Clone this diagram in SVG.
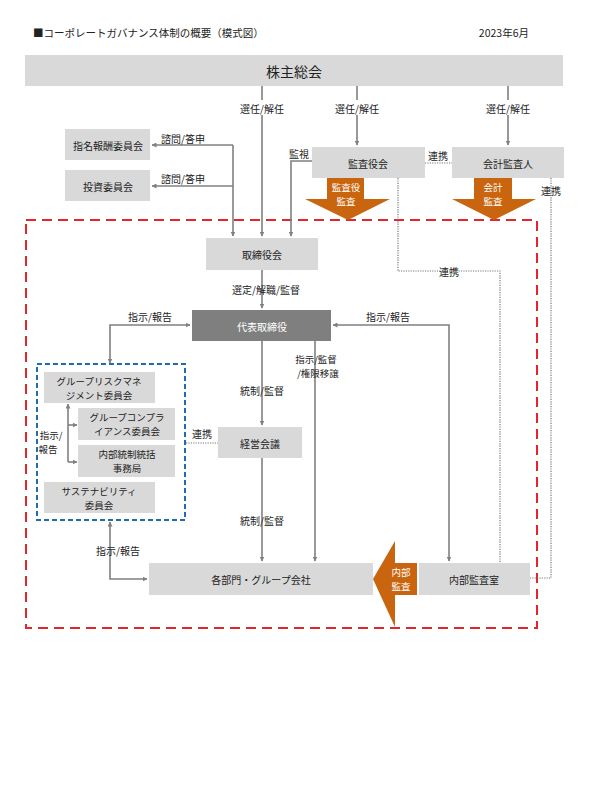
<svg xmlns="http://www.w3.org/2000/svg" width="589" height="788" viewBox="0 0 589 788">
<defs>
<marker id="ah" viewBox="0 0 10 10" refX="9" refY="5" markerWidth="5" markerHeight="5" orient="auto-start-reverse" markerUnits="userSpaceOnUse">
<path d="M0,0 L10,5 L0,10 z" fill="#808080"/>
</marker>
<style>
text{font-family:"Noto Sans CJK JP","Noto Sans",sans-serif;fill:#222;}
.box{fill:#d9d9d9;}
.dark{fill:#7f7f7f;}
.t{font-size:10px;text-anchor:middle;dominant-baseline:central;}
.t2{font-size:9.5px;text-anchor:middle;dominant-baseline:central;}
.lbl{font-size:10px;text-anchor:middle;dominant-baseline:central;}
.l2{font-size:9.5px;text-anchor:middle;dominant-baseline:central;}
.w{fill:#fff;}
.ln{fill:none;stroke:#808080;stroke-width:1.6;}
.arr{marker-end:url(#ah);}
.dot{fill:none;stroke:#777;stroke-width:1.2;stroke-dasharray:1.2 1.2;}
.org{fill:#c8650e;}
</style>
</defs>
<rect width="589" height="788" fill="#fff"/>
<text x="33" y="37" style="font-size:10.5px">■コーポレートガバナンス体制の概要（模式図）</text>
<text x="529" y="37" style="font-size:10.5px;text-anchor:end">2023年6月</text>

<!-- frames -->
<rect x="26" y="220" width="511" height="408" fill="none" stroke="#e3262b" stroke-width="2" stroke-dasharray="10 6"/>
<rect x="37" y="364" width="148" height="156" fill="none" stroke="#1f6cb4" stroke-width="2" stroke-dasharray="5 3"/>

<g id="connectors">
<path class="ln" d="M262,86 V100 M262,115 V236" marker-end="url(#ah)"/>
<path class="ln" d="M357,86 V100 M357,115 V145" marker-end="url(#ah)"/>
<path class="ln" d="M508,86 V100 M508,115 V145" marker-end="url(#ah)"/>
<path class="ln arr" d="M233,145 V236"/>
<path class="ln arr" d="M233,145 H152"/>
<path class="ln arr" d="M233,186 H152"/>
<path class="ln arr" d="M313,161 H291 V236"/>
<path class="ln arr" d="M262,270 V308"/>
<path class="ln" d="M110,363 V325 H190" marker-start="url(#ah)" marker-end="url(#ah)"/>
<path class="ln" d="M449,561 V325 H333" marker-start="url(#ah)" marker-end="url(#ah)"/>
<path class="ln arr" d="M262,341 V425"/>
<path class="ln arr" d="M315,341 V561"/>
<path class="ln arr" d="M262,458 V561"/>
<path class="ln" d="M110,522 V579 H147" marker-start="url(#ah)" marker-end="url(#ah)"/>
<path class="ln arr" d="M68,425 V404"/>
<path class="ln" d="M68,425 V462"/>
<path class="ln arr" d="M68,425 H77"/>
<path class="ln arr" d="M68,462 H77"/>
<path class="dot" d="M425,163 H452"/>
<path class="dot" d="M186,443 H218"/>
<path class="dot" d="M398,178 V271 H500 V563"/>
<path class="dot" d="M551,178 V578 H530"/>
<path class="org" d="M327,177 H364 V199 H390 L348,220 L305,199 H327 Z"/>
<path class="org" d="M474,177 H512 V199 H536 L494,220 L452,199 H474 Z"/>
<path class="org" d="M417,563 V595 H395 V627 L373,579 L395,541 V563 Z"/>
<text class="l2 w" x="346" y="187">監査役</text>
<text class="l2 w" x="346" y="201">監査</text>
<text class="l2 w" x="493" y="187">会計</text>
<text class="l2 w" x="493" y="201">監査</text>
<text class="l2 w" x="401" y="572">内部</text>
<text class="l2 w" x="401" y="586">監査</text>
<text class="lbl" x="262" y="108">選任/解任</text>
<text class="lbl" x="357" y="108">選任/解任</text>
<text class="lbl" x="508" y="108">選任/解任</text>
<text class="lbl" x="183" y="138">諮問/答申</text>
<text class="lbl" x="183" y="178">諮問/答申</text>
<text class="lbl" x="299" y="153">監視</text>
<text class="lbl" x="438" y="155">連携</text>
<text class="lbl" x="551" y="190">連携</text>
<text class="lbl" x="449" y="271">連携</text>
<text class="lbl" x="266" y="289">選定/解職/監督</text>
<text class="lbl" x="150" y="316">指示/報告</text>
<text class="lbl" x="388" y="316">指示/報告</text>
<text class="l2" x="316" y="359">指示/監督</text>
<text class="l2" x="318" y="373">/権限移譲</text>
<text class="lbl" x="262" y="390">統制/監督</text>
<text class="lbl" x="202" y="433">連携</text>
<text class="l2" x="51" y="435">指示/</text>
<text class="l2" x="48" y="449">報告</text>
<text class="lbl" x="262" y="520">統制/監督</text>
<text class="lbl" x="118" y="550">指示/報告</text>
</g>

<g id="shareholders"><rect class="box" x="25" y="55" width="538" height="31"/><text class="t" x="294" y="71" style="font-size:14px">株主総会</text></g>
<g id="nomination"><rect class="box" x="65" y="129" width="85" height="31"/><text class="t" x="108" y="145">指名報酬委員会</text></g>
<g id="investment"><rect class="box" x="65" y="170" width="85" height="31"/><text class="t" x="108" y="186">投資委員会</text></g>
<g id="kansayakukai"><rect class="box" x="312" y="147" width="113" height="31"/><text class="t" x="368" y="163">監査役会</text></g>
<g id="kaikei"><rect class="box" x="452" y="147" width="112" height="31"/><text class="t" x="508" y="163">会計監査人</text></g>
<g id="board"><rect class="box" x="206" y="238" width="112" height="32"/><text class="t" x="262" y="254">取締役会</text></g>
<g id="ceo"><rect class="dark" x="192" y="310" width="139" height="31"/><text class="t w" x="262" y="326">代表取締役</text></g>
<g id="risk"><rect class="box" x="44" y="372" width="111" height="31"/><text class="t2" x="99" y="380.5">グループリスクマネ</text><text class="t2" x="99" y="394.5">ジメント委員会</text></g>
<g id="compliance"><rect class="box" x="78" y="408" width="97" height="32"/><text class="t2" x="127" y="417">グループコンプラ</text><text class="t2" x="127" y="431">イアンス委員会</text></g>
<g id="internalcontrol"><rect class="box" x="78" y="445" width="97" height="32"/><text class="t2" x="127" y="454">内部統制統括</text><text class="t2" x="127" y="468">事務局</text></g>
<g id="sustainability"><rect class="box" x="44" y="482" width="111" height="31"/><text class="t2" x="99" y="490.5">サステナビリティ</text><text class="t2" x="99" y="504.5">委員会</text></g>
<g id="keiei"><rect class="box" x="218" y="427" width="84" height="31"/><text class="t" x="260" y="443">経営会議</text></g>
<g id="departments"><rect class="box" x="149" y="563" width="224" height="32"/><text class="t" x="261" y="579">各部門・グループ会社</text></g>
<g id="internalaudit"><rect class="box" x="419" y="563" width="111" height="32"/><text class="t" x="474" y="579">内部監査室</text></g>
</svg>
